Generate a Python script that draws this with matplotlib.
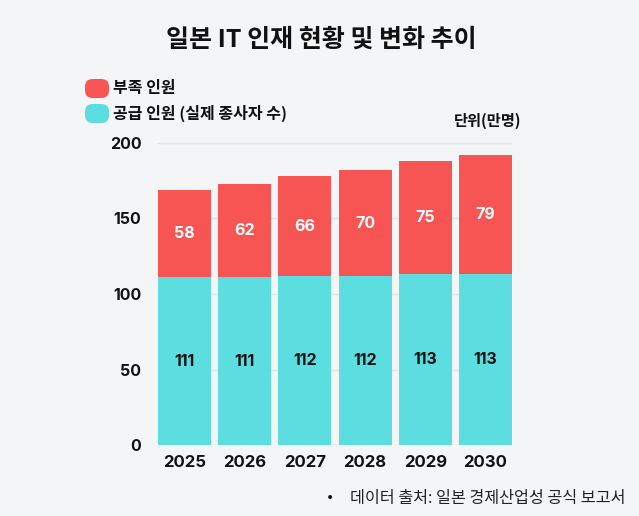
import matplotlib
matplotlib.use("Agg")
import matplotlib.pyplot as plt
from matplotlib.patches import FancyBboxPatch

plt.rcParams['font.family'] = ['Inter', 'Noto Sans CJK KR', 'DejaVu Sans']

years = ['2025', '2026', '2027', '2028', '2029', '2030']
supply = [111, 111, 112, 112, 113, 113]
shortage = [58, 62, 66, 70, 75, 79]
yticks = [0, 50, 100, 150, 200]

BG = '#f4f5f7'
RED = '#f75454'
CYAN = '#5cdde0'
KR = ['Noto Sans CJK KR', 'DejaVu Sans']

W, H = 639, 516
fig = plt.figure(figsize=(W/100, H/100), dpi=100, facecolor=BG)
ax = fig.add_axes([158/W, (H-445)/H, (512-158)/W, (445-143)/H])
ax.set_facecolor(BG)

x = list(range(len(years)))
bw = 0.88
ax.bar(x, supply, width=bw, color=CYAN, zorder=3)
ax.bar(x, shortage, bottom=supply, width=bw, color=RED, zorder=3)

for i in x:
    ax.text(i, supply[i]/2, str(supply[i]), ha='center', va='center',
            fontsize=11.5, fontweight='bold', color='#111111', zorder=4)
    ax.text(i, supply[i] + shortage[i]/2, str(shortage[i]), ha='center', va='center',
            fontsize=11.5, fontweight='bold', color='white', zorder=4)

ax.set_xlim(-0.44, len(years) - 1 + 0.44)
ax.set_ylim(0, 200)
ax.set_yticks(yticks)
ax.set_yticklabels([str(v) for v in yticks], fontsize=11.5, fontweight='bold', color='#111111')
ax.set_xticks(x)
ax.set_xticklabels(years, fontsize=12, fontweight='bold', color='#111111')
ax.tick_params(axis='both', length=0)
ax.tick_params(axis='y', pad=12)
ax.tick_params(axis='x', pad=7)
for s in ax.spines.values():
    s.set_visible(False)
ax.grid(axis='y', color='#e2e3e6', linewidth=1, zorder=0)
ax.set_axisbelow(True)

fig.text(321/W, 1 - 40/H, '일본 IT 인재 현황 및 변화 추이', ha='center', va='center',
         fontsize=18, fontweight='bold', color='#111111', family=KR)

# legend
for (yc, col, lab) in [(88, RED, '부족 인원'), (113, CYAN, '공급 인원 (실제 종사자 수)')]:
    box = FancyBboxPatch(((85)/W, 1 - (yc + 10)/H), 24/W, 19/H,
                         boxstyle='round,pad=0,rounding_size=0.012',
                         transform=fig.transFigure, facecolor=col, edgecolor='none',
                         mutation_aspect=W/H)
    fig.patches.append(box)
    fig.text(113/W, 1 - yc/H, lab, ha='left', va='center', fontsize=11.5,
             fontweight='bold', color='#111111', family=KR)

fig.text(488/W, 1 - 121/H, '단위(만명)', ha='center', va='center', fontsize=11,
         fontweight='bold', color='#111111', family=KR)

fig.text(330/W, 1 - 498/H, '•', ha='center', va='center', fontsize=10, color='#111111',
         family=['DejaVu Sans'])
fig.text(350/W, 1 - 498/H, '데이터 출처: 일본 경제산업성 공식 보고서', ha='left', va='center',
         fontsize=11.7, color='#222222', family=KR)

fig.savefig('out.png', dpi=100, facecolor=BG)
